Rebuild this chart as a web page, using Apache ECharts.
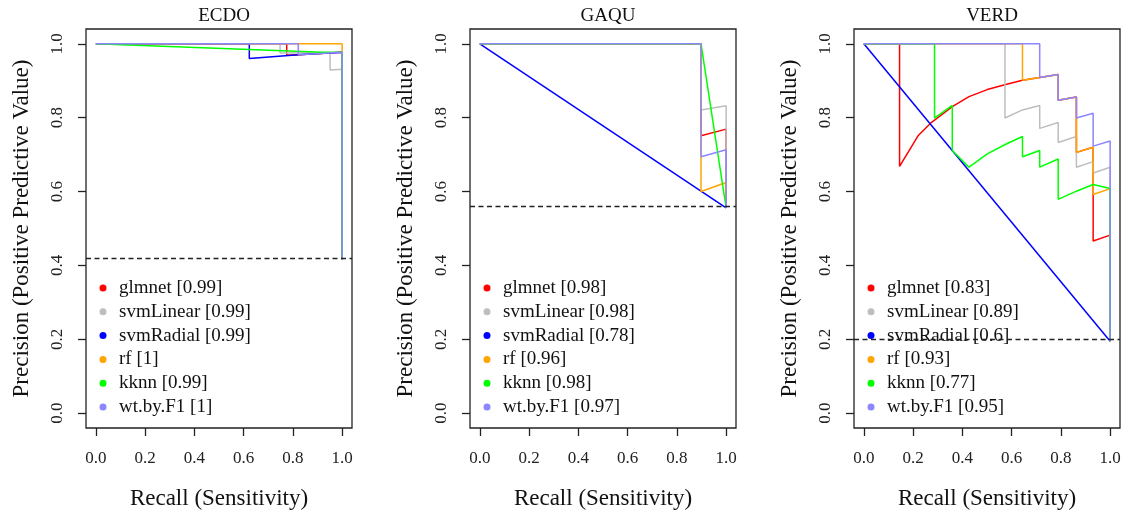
<!DOCTYPE html>
<html>
<head>
<meta charset="utf-8">
<script src="https://cdn.jsdelivr.net/npm/echarts@6/dist/echarts.min.js"></script>
<style>html,body{margin:0;padding:0;background:#fff}#c{width:1125px;height:515px}</style>
</head>
<body>
<div id="c"></div>
<script>
// ---- data ----
const panelNames = ['ECDO', 'GAQU', 'VERD'];
const modelNames = ['glmnet', 'svmLinear', 'svmRadial', 'rf', 'kknn', 'wt.by.F1'];
const modelColors = ['#FF0000', '#BEBEBE', '#0000FF', '#FFA500', '#00FF00', '#8C86FF'];
const aucECDO = ['0.99', '0.99', '0.99', '1', '0.99', '1'];
const aucGAQU = ['0.98', '0.98', '0.78', '0.96', '0.98', '0.97'];
const aucVERD = ['0.83', '0.89', '0.6', '0.93', '0.77', '0.95'];
const baselines = [0.417, 0.556, 0.195];
const tickValues = [0, 0.2, 0.4, 0.6, 0.8, 1.0];

// ECDO curves [recall, precision]
const ecdo_glmnet = [[0,1],[0.775,1],[0.775,0.969],[0.822,0.970],[1,0.977],[1,0.417]];
const ecdo_svmLinear = [[0,1],[0.748,1],[0.748,0.975],[0.951,0.976],[0.951,0.929],[1,0.931],[1,0.417]];
const ecdo_svmRadial = [[0,1],[0.623,1],[0.623,0.960],[0.822,0.970],[1,0.977],[1,0.417]];
const ecdo_rf = [[0,1],[1,1],[1,0.975],[1,0.417]];
const ecdo_kknn = [[0,1],[0.92,0.977],[1,0.977],[1,0.417]];
const ecdo_wt = [[0,1],[0.822,1],[0.822,0.970],[1,0.977],[1,0.417]];

// GAQU curves
const gaqu_glmnet = [[0,1],[0.898,1],[0.898,0.751],[1,0.769],[1,0.556]];
const gaqu_svmLinear = [[0,1],[0.898,1],[0.898,0.821],[1,0.832],[1,0.556]];
const gaqu_svmRadial = [[0,1],[1,0.556]];
const gaqu_rf = [[0,1],[0.898,1],[0.898,0.600],[0.997,0.624],[1,0.556]];
const gaqu_kknn = [[0,1],[0.898,1],[1,0.556]];
const gaqu_wt = [[0,1],[0.898,1],[0.898,0.694],[1,0.713],[1,0.556]];

// VERD curves
const verd_glmnet = [[0,1],[0.145,1],[0.145,0.668],[0.220,0.751],[0.271,0.785],[0.359,0.830],[0.427,0.857],[0.501,0.876],[0.576,0.890],[0.644,0.901],[0.714,0.909],[0.789,0.917],[0.789,0.847],[0.863,0.856],[0.863,0.706],[0.931,0.720],[0.931,0.466],[1,0.482],[1,0.195]];
const verd_svmLinear = [[0,1],[0.573,1],[0.573,0.799],[0.644,0.821],[0.714,0.833],[0.714,0.771],[0.789,0.787],[0.789,0.733],[0.863,0.749],[0.863,0.666],[0.931,0.681],[0.931,0.650],[1,0.666],[1,0.195]];
const verd_svmRadial = [[0,1],[1,0.195]];
const verd_rf = [[0,1],[0.644,1],[0.644,0.901],[0.714,0.909],[0.789,0.917],[0.789,0.847],[0.863,0.856],[0.863,0.706],[0.931,0.720],[0.931,0.592],[1,0.608],[1,0.195]];
const verd_kknn = [[0,1],[0.287,1],[0.287,0.799],[0.359,0.833],[0.359,0.711],[0.427,0.666],[0.501,0.702],[0.576,0.728],[0.644,0.749],[0.644,0.694],[0.714,0.711],[0.714,0.666],[0.789,0.688],[0.789,0.579],[0.863,0.601],[0.931,0.619],[1,0.608],[1,0.195]];
const verd_wt = [[0,1],[0.714,1],[0.714,0.909],[0.789,0.917],[0.789,0.847],[0.863,0.856],[0.863,0.799],[0.931,0.812],[0.931,0.723],[1,0.737],[1,0.195]];

const curves = [
  [ecdo_glmnet, ecdo_svmLinear, ecdo_svmRadial, ecdo_rf, ecdo_kknn, ecdo_wt],
  [gaqu_glmnet, gaqu_svmLinear, gaqu_svmRadial, gaqu_rf, gaqu_kknn, gaqu_wt],
  [verd_glmnet, verd_svmLinear, verd_svmRadial, verd_rf, verd_kknn, verd_wt]
];
const aucs = [aucECDO, aucGAQU, aucVERD];

// ---- layout ----
const FONT = '"Liberation Serif", "Times New Roman", serif';
const gLeft = 86, gTop = 29, gW = 266, gH = 402, gStep = 384;

const grids = [], xAxes = [], yAxes = [], titles = [], legends = [], series = [];
panelNames.forEach((p, i) => {
  const left = gLeft + gStep * i;
  grids.push({left: left, top: gTop, width: gW, height: gH, show: true, borderColor: '#222', borderWidth: 1.3, containLabel: false});
  titles.push({text: p, left: left + gW / 2, top: 2, textAlign: 'center',
    textStyle: {fontFamily: FONT, fontSize: 19, fontWeight: 'normal', color: '#111'}});
  const axisCommon = {
    type: 'value', min: -0.04, max: 1.04, gridIndex: i,
    splitLine: {show: false},
    axisLine: {show: false, onZero: false},
    axisTick: {show: true, length: 8, inside: false, customValues: tickValues, lineStyle: {color: '#222', width: 1.3}},
    nameLocation: 'middle',
    nameTextStyle: {fontFamily: FONT, fontSize: 23, color: '#111'}
  };
  xAxes.push(Object.assign({}, axisCommon, {
    position: 'bottom',
    name: 'Recall (Sensitivity)', nameGap: 59,
    axisLabel: {customValues: tickValues, formatter: v => v.toFixed(1), margin: 22,
      fontFamily: FONT, fontSize: 17, color: '#222'}
  }));
  yAxes.push(Object.assign({}, axisCommon, {
    position: 'left',
    name: 'Precision (Positive Predictive Value)', nameGap: 53,
    axisLabel: {customValues: tickValues, formatter: v => v.toFixed(1), margin: 20, rotate: 90,
      fontFamily: FONT, fontSize: 17, color: '#222'}
  }));
  const names = modelNames.map((m, k) => m + ' [' + aucs[i][k] + ']');
  legends.push({
    left: left + 13.5, top: 278, orient: 'vertical', padding: 0,
    itemWidth: 22, itemHeight: 7, itemGap: 3.8, symbolKeepAspect: true,
    selectedMode: false,
    textStyle: {fontFamily: FONT, fontSize: 19, color: '#111', lineHeight: 20},
    data: names.map(n => ({name: n, icon: 'circle'}))
  });
  series.push({
    type: 'line', xAxisIndex: i, yAxisIndex: i, data: [], silent: true,
    markLine: {silent: true, symbol: 'none', label: {show: false},
      lineStyle: {color: '#222', type: [5, 3.5], width: 1.4},
      data: [{yAxis: baselines[i]}]}
  });
  curves[i].forEach((d, k) => {
    series.push({
      name: names[k], type: 'line', xAxisIndex: i, yAxisIndex: i,
      data: d, showSymbol: false, symbol: 'none', animation: false,
      itemStyle: {color: modelColors[k]},
      lineStyle: {color: modelColors[k], width: 1.5}
    });
  });
});

const chart = echarts.init(document.getElementById('c'), null, {renderer: 'canvas'});
chart.setOption({
  backgroundColor: '#fff',
  animation: false,
  title: titles,
  grid: grids,
  xAxis: xAxes,
  yAxis: yAxes,
  legend: legends,
  series: series
});
</script>
</body>
</html>
